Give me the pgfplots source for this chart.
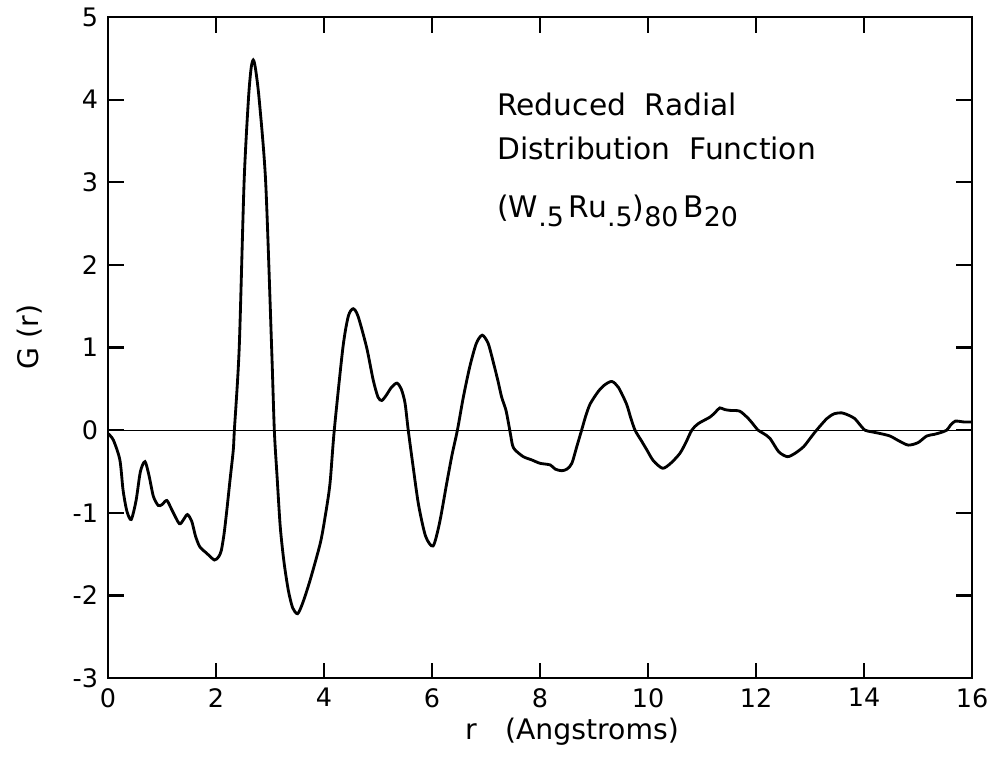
\documentclass[border=0pt]{standalone}
\usepackage{fontspec}
\setmainfont{DejaVu Sans}
\usepackage{pgfplots}
\pgfplotsset{compat=1.18}
\newcommand{\sub}[1]{\raisebox{-0.55ex}{\fontsize{9.5}{10}\selectfont #1}}
\begin{document}
\begin{tikzpicture}
\begin{axis}[
  scale only axis,
  width=305.4pt, height=233.7pt,
  xmin=0, xmax=16, ymin=-3, ymax=5,
  xtick={0,2,...,16}, ytick={-3,-2,...,5},
  tick align=inside,
  major tick length=5.5pt,
  axis line style={line width=0.8pt},
  every tick/.style={black, line width=0.8pt},
  tick label style={font=\fontsize{9}{10}\selectfont},
  /pgf/number format/assume math mode=true,
  clip=false,
  xlabel={r\quad(Angstroms)},
  ylabel={G\,\,(r)},
  label style={font=\fontsize{11.5}{13}\selectfont},
  every axis x label/.style={at={(axis description cs:0.537,0)}, anchor=north, yshift=-10.5pt},
  every axis y label/.style={at={(axis description cs:0,0.516)}, xshift=-27.6pt, anchor=center, rotate=90},
]
\addplot[black, line width=0.45pt] coordinates {(0,0) (16,0)};
\addplot[black, line width=1pt, smooth, tension=0.45] coordinates {
(0.00,-0.04) (0.10,-0.12) (0.22,-0.36) (0.28,-0.73) (0.35,-0.98) (0.43,-1.08)
(0.52,-0.85) (0.60,-0.50) (0.685,-0.38) (0.76,-0.55) (0.84,-0.80) (0.93,-0.91)
(1.00,-0.90) (1.09,-0.85) (1.18,-0.96) (1.32,-1.13) (1.40,-1.08) (1.47,-1.02)
(1.55,-1.10) (1.62,-1.28) (1.70,-1.41) (1.83,-1.49) (1.97,-1.57) (2.05,-1.53)
(2.10,-1.45) (2.15,-1.25) (2.20,-0.97) (2.26,-0.60) (2.32,-0.24) (2.34,0.00)
(2.43,1.00) (2.52,3.00) (2.60,4.00) (2.65,4.38) (2.69,4.48) (2.73,4.38)
(2.80,4.00) (2.92,3.00) (3.03,1.00) (3.08,0.00) (3.13,-0.55) (3.19,-1.17)
(3.26,-1.60) (3.34,-1.94) (3.42,-2.15) (3.51,-2.22) (3.60,-2.10) (3.74,-1.82)
(3.93,-1.37) (4.02,-1.05) (4.11,-0.65) (4.19,0.00) (4.35,1.00) (4.45,1.38)
(4.54,1.47) (4.63,1.38) (4.79,1.00) (4.91,0.61) (5.00,0.40) (5.07,0.36)
(5.15,0.42) (5.25,0.52) (5.35,0.57) (5.43,0.50) (5.50,0.33) (5.56,0.00)
(5.65,-0.44) (5.75,-0.90) (5.88,-1.28) (6.02,-1.40) (6.14,-1.12) (6.27,-0.65)
(6.37,-0.30) (6.47,0.00) (6.58,0.40) (6.70,0.77) (6.82,1.05) (6.93,1.15)
(7.04,1.05) (7.14,0.81) (7.22,0.60) (7.29,0.40) (7.37,0.24) (7.44,0.00)
(7.49,-0.18) (7.54,-0.24) (7.69,-0.32) (7.85,-0.36) (8.00,-0.40) (8.19,-0.42)
(8.28,-0.47) (8.40,-0.49) (8.50,-0.47) (8.59,-0.40) (8.68,-0.20) (8.77,0.00)
(8.85,0.18) (8.93,0.32) (9.08,0.47) (9.20,0.55) (9.33,0.59) (9.45,0.52)
(9.60,0.32) (9.68,0.15) (9.76,0.00) (9.88,-0.13) (9.98,-0.24) (10.10,-0.37)
(10.27,-0.46) (10.42,-0.40) (10.59,-0.28) (10.70,-0.15) (10.81,0.00) (10.93,0.08)
(11.15,0.16) (11.25,0.22) (11.33,0.27) (11.42,0.25) (11.52,0.24) (11.70,0.23)
(11.86,0.14) (11.95,0.07) (12.04,0.00) (12.14,-0.04) (12.26,-0.10) (12.42,-0.26)
(12.58,-0.32) (12.72,-0.28) (12.88,-0.20) (13.00,-0.10) (13.12,0.00) (13.31,0.14)
(13.45,0.20) (13.59,0.21) (13.72,0.18) (13.83,0.14) (13.92,0.07) (14.02,0.00)
(14.15,-0.02) (14.30,-0.04) (14.48,-0.07) (14.65,-0.13) (14.82,-0.18) (15.00,-0.15)
(15.16,-0.07) (15.30,-0.05) (15.41,-0.03) (15.53,0.00) (15.60,0.06) (15.69,0.11)
(15.85,0.10) (16.00,0.10)
};
\node[anchor=base west, inner sep=0pt, font=\fontsize{10.5}{12}\selectfont] at (axis cs:7.2,3.81) {Reduced\ \ Radial};
\node[anchor=base west, inner sep=0pt, font=\fontsize{10.5}{12}\selectfont] at (axis cs:7.2,3.27) {Distribution\ \ Function};
\node[anchor=base west, inner sep=0pt, font=\fontsize{10.5}{12}\selectfont] at (axis cs:7.2,2.57) {(W\sub{.5}\,Ru\sub{.5})\sub{80}\,B\sub{20}};
\coordinate (bbl) at (axis cs:-2.0,-3.98);
\coordinate (btr) at (axis cs:16.333,5.206);
\end{axis}
\pgfresetboundingbox
\path[use as bounding box] (bbl) rectangle (btr);
\end{tikzpicture}
\end{document}
